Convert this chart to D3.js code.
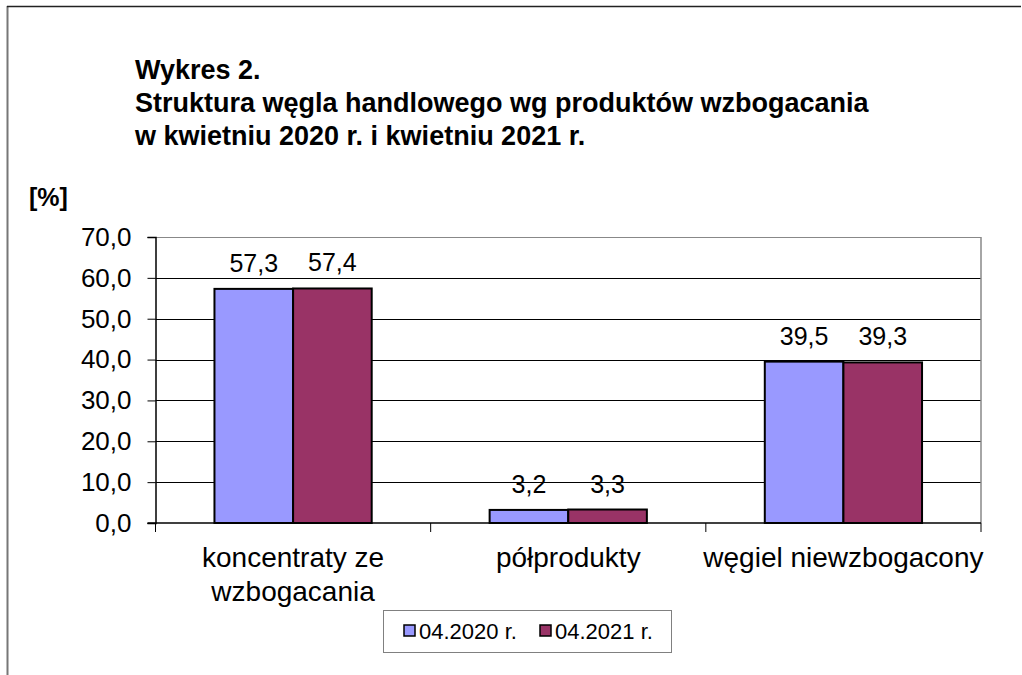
<!DOCTYPE html>
<html><head><meta charset="utf-8">
<script src="https://cdn.jsdelivr.net/npm/d3@7"></script>
<style>
html,body{margin:0;padding:0;background:#fff;}
svg{display:block;font-family:Arial,"Liberation Sans",sans-serif;}
</style></head>
<body>
<svg id="c" width="1022" height="675"></svg>
<script>
const categories = [["koncentraty ze","wzbogacania"],["półprodukty"],["węgiel niewzbogacony"]];
const seriesNames = ["04.2020 r.","04.2021 r."];
const values2020 = [57.3, 3.2, 39.5];
const values2021 = [57.4, 3.3, 39.3];
const yTicks = [0,10,20,30,40,50,60,70];
const titleLines = ["Wykres 2.","Struktura węgla handlowego wg produktów wzbogacania","w kwietniu 2020 r. i kwietniu 2021 r."];
const colors = ["#9999FF","#993366"];

const svg = d3.select("#c");
const fmt = v => v.toFixed(1).replace(".", ",");

// outer frame lines
svg.append("line").attr("x1",7.5).attr("x2",7.5).attr("y1",6).attr("y2",675).attr("stroke","#777").attr("stroke-width",2);
svg.append("line").attr("x1",7).attr("x2",1021).attr("y1",6.5).attr("y2",6.5).attr("stroke","#222").attr("stroke-width",1.5);

// title
const t = svg.append("text").attr("font-weight","bold").attr("font-size",27).attr("fill","#000");
titleLines.forEach((l,i)=>t.append("tspan").attr("x",135).attr("y",79+i*33).text(l));

svg.append("text").attr("x",29).attr("y",206).attr("font-weight","bold").attr("font-size",25).text("[%]");

const L=155.5, R=981, T=237, B=523;
const y = d3.scaleLinear().domain([0,70]).range([B,T]);
const x0 = d3.scaleBand().domain(d3.range(categories.length)).range([L,R]).paddingInner(0).paddingOuter(0);
const x1 = d3.scaleBand().domain(d3.range(seriesNames.length)).range([0,x0.bandwidth()]).paddingOuter(0.75).paddingInner(0);

// gridlines
svg.append("g").selectAll("line").data(yTicks.filter(d=>d>0)).join("line")
  .attr("x1",L).attr("x2",R).attr("y1",d=>Math.round(y(d))+0.5).attr("y2",d=>Math.round(y(d))+0.5)
  .attr("stroke",d=>d===70?"#888":"#000").attr("stroke-width",1);
// right border
svg.append("line").attr("x1",R).attr("x2",R).attr("y1",T).attr("y2",B).attr("stroke","#888").attr("stroke-width",1.5);

// y axis
const ya = svg.append("g").attr("transform",`translate(${L},0)`)
  .call(d3.axisLeft(y).tickValues(yTicks).tickFormat(fmt).tickSize(8).tickPadding(16));
ya.select(".domain").attr("stroke","#000").attr("stroke-width",1.5);
ya.selectAll(".tick line").attr("stroke","#000");
ya.selectAll("text").attr("font-size",26).attr("font-family","Arial,'Liberation Sans',sans-serif").attr("fill","#000");

// x axis
const xa = svg.append("g").attr("transform",`translate(0,${B})`);
xa.append("line").attr("x1",L-8).attr("x2",R).attr("y1",0).attr("y2",0).attr("stroke","#000").attr("stroke-width",1.5);
xa.selectAll("line.tk").data(d3.range(categories.length+1)).join("line").attr("class","tk")
  .attr("x1",i=>i<categories.length?x0(i):R).attr("x2",i=>i<categories.length?x0(i):R)
  .attr("y1",0).attr("y2",9).attr("stroke","#000");

// bars
const data = categories.map((c,i)=>[values2020[i],values2021[i]]);
const g = svg.append("g").selectAll("g").data(data).join("g").attr("transform",(d,i)=>`translate(${x0(i)},0)`);
g.selectAll("rect").data(d=>d).join("rect")
  .attr("x",(d,j)=>x1(j)).attr("width",x1.bandwidth())
  .attr("y",d=>y(d)).attr("height",d=>B-y(d))
  .attr("fill",(d,j)=>colors[j]).attr("stroke","#000").attr("stroke-width",2);
g.selectAll("text").data(d=>d).join("text")
  .attr("x",(d,j)=>x1(j)+x1.bandwidth()/2).attr("y",d=>y(d)-17)
  .attr("text-anchor","middle").attr("font-size",25).text(fmt);

// category labels
const cl = svg.append("g").selectAll("text").data(categories).join("text")
  .attr("text-anchor","middle").attr("font-size",28)
  .attr("transform",(d,i)=>`translate(${x0(i)+x0.bandwidth()/2},0)`);
cl.selectAll("tspan").data(d=>d).join("tspan").attr("x",0).attr("y",(d,k)=>567+k*34).text(d=>d);

// legend
const lg = svg.append("g");
lg.append("rect").attr("x",383.5).attr("y",610.5).attr("width",288).attr("height",42).attr("fill","#fff").attr("stroke","#808080").attr("stroke-width",1);
const lx = [404, 540];
seriesNames.forEach((n,i)=>{
  lg.append("rect").attr("x",lx[i]).attr("y",625).attr("width",11).attr("height",11).attr("fill",colors[i]).attr("stroke","#000").attr("stroke-width",1.5);
  lg.append("text").attr("x",lx[i]+15).attr("y",639).attr("font-size",22).text(n);
});
</script>
</body></html>
